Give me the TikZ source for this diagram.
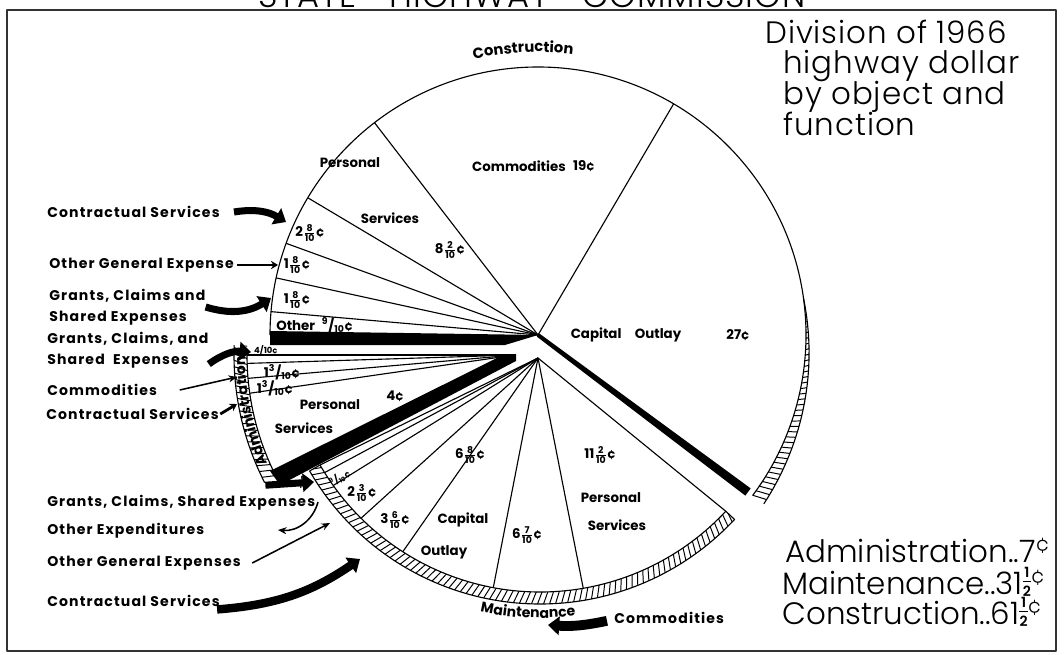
\documentclass[tikz,border=0pt]{standalone}
\usepackage{amsmath}
\usepackage{fontspec}
\setmainfont{Poppins}
\newfontfamily\thinfont{Poppins Light}[LetterSpace=3]
\newfontfamily\legfont{Poppins Light}
\newfontfamily\lblfont{Poppins}[LetterSpace=8]
\usetikzlibrary{arrows.meta, calc, decorations.text}

\newcommand{\fr}[2]{\ensuremath{\frac{\text{#1}}{\text{#2}}}}
\newcommand{\sfr}[2]{\textsuperscript{#1}/\textsubscript{#2}}
\newcommand{\half}{\raisebox{-2pt}{\bfseries\fontsize{10}{10}\selectfont\shortstack{1\\\rule{6pt}{0.6pt}\\2}}}

\tikzset{
	lbl/.style={font=\lblfont\bfseries\fontsize{10}{15}\selectfont, anchor=west, inner sep=0pt, align=left},
	sl/.style={font=\bfseries\fontsize{9.5}{11}\selectfont, inner sep=0pt},
	big/.style={font=\thinfont\fontsize{22}{30}\selectfont, anchor=base west, inner sep=0pt},
	leg/.style={font=\legfont\fontsize{22}{30}\selectfont, anchor=base west, inner sep=0pt},
	rim/.style={line width=0.8pt},
	hatch/.style={line width=0.7pt},
	fatarrow/.style={line width=5pt, -{Triangle[length=8pt, width=13pt]}},
	thinarrow/.style={line width=1.1pt, -{Stealth[length=6pt, width=5pt]}},
}

\begin{document}
\begin{tikzpicture}[x=0.025cm, y=0.025cm, line join=round]
	\useasboundingbox (0,0) rectangle (1064,654);
	\draw[line width=1pt, black!80] (7,3) rectangle (1056,644);
	\node[font=\thinfont\fontsize{24}{24}\selectfont, anchor=base] (title) at (532,646) {STATE\quad HIGHWAY\quad COMMISSION};

	\node[big] (head1) at (765,610) {Division of 1966};
	\node[big] (head2) at (783,580) {highway dollar};
	\node[big] (head3) at (783,550) {by object and};
	\node[big] (head4) at (783,519) {function};

	\node[leg] (tot1) at (785,92) {Administration..7\textsuperscript{¢}};
	\node[leg] (tot2) at (782,60) {Maintenance..31\half\textsuperscript{¢}};
	\node[leg] (tot3) at (782,30) {Construction..61\half\textsuperscript{¢}};

	\coordinate (C) at (538,319);
	\coordinate (A) at (515,299);
	\coordinate (M) at (538,296);
	\coordinate (MC) at (540,316);

	% construction
	\draw[rim] ($(C)+(180:268)$) arc[start angle=180, end angle=-36.8, radius=268];
	\foreach \a in {175,167.7,160,149.2,127.6,59.6}
		\draw[rim] (C) -- ($(C)+(\a:268)$);
	\begin{scope}[shift={(538,319)}]
		\begin{scope}
			\clip (8:268) arc[start angle=8, end angle=-36.8, radius=268] -- plot[domain=-36.8:8, samples=25] (\x:{268+14*(8-\x)/44.8}) -- cycle;
			\foreach \a in {-42,-40.8,...,10}
				\draw[hatch] (\a:262) -- ({\a+2}:290);
		\end{scope}
		\draw[rim] plot[domain=-36.8:8, samples=25] (\x:{268+14*(8-\x)/44.8});
		\path[decorate, decoration={text along path, text align=center,
			text={|\lblfont\bfseries\fontsize{10.5}{11}\selectfont|Construction}}]
			(118:283) arc[start angle=118, end angle=68, radius=283];
	\end{scope}
	\fill (270,323) -- (C) -- (505,309) -- (270,309) -- cycle;
	\fill (539.2,320.6) -- (750.7,165.6) -- (745.3,158.4) -- (536.8,317.4) -- cycle;

	% administration
	\foreach \a in {180,181.8,185,188.2}
		\draw[rim] (A) -- ($(A)+(\a:268)$);
	\begin{scope}[shift={(515,299)}]
		\draw[rim] (180:268) arc[start angle=180, end angle=206, radius=268];
		\begin{scope}
			\clip (178:268) arc[start angle=178, end angle=207, radius=268] -- (207:281) arc[start angle=207, end angle=178, radius=281] -- cycle;
			\foreach \a in {176,177.3,...,210}
				\draw[hatch] (\a:262) -- ({\a-2}:290);
		\end{scope}
		\draw[rim] (178:281) arc[start angle=178, end angle=207, radius=281];
		\path[decorate, decoration={text along path, text align=center,
			text={|\lblfont\bfseries\fontsize{10}{11}\selectfont|Administration}}]
			(216:270) arc[start angle=216, end angle=168, radius=270];
	\end{scope}
	\fill (270,183) -- (505,300) -- (516,300) -- (516,293) -- (280,169) -- cycle;

	% maintenance
	\foreach \a in {210,212,215.5,225.2,237.3,259.4,279.8,317}
		\draw[rim] (M) -- ($(MC)+(\a:254)$);
	\begin{scope}[shift={(540,316)}]
		\draw[rim] (210:254) arc[start angle=210, end angle=317, radius=254];
		\begin{scope}
			\clip (210:254) arc[start angle=210, end angle=317, radius=254] -- (317:266) arc[start angle=317, end angle=210, radius=266] -- cycle;
			\foreach \a in {206,207.3,...,320}
				\draw[hatch] (\a:248) -- ({\a-2}:272);
		\end{scope}
		\draw[rim] (210:266) arc[start angle=210, end angle=317, radius=266] -- (317:254);
		\draw[rim] (210:254) -- (210:266);
		\path[decorate, decoration={text along path, text align=center,
			text={|\lblfont\bfseries\fontsize{10}{11}\selectfont|Maintenance}}]
			(242:280) arc[start angle=242, end angle=293, radius=280];
	\end{scope}

	% slice labels
	\node[sl, anchor=west] (oth) at (276,329) {Other\enspace\sfr{9}{10}¢};
	\node[sl] (grc) at (297,354) {1\fr{8}{10}¢};
	\node[sl] (oge) at (297,389) {1\fr{8}{10}¢};
	\node[sl] (ctr) at (310,421) {2\fr{8}{10}¢};
	\node[sl] (per1) at (350,491) {Personal};
	\node[sl] (ser1) at (390,436) {Services};
	\node[sl] (pv1) at (450,404) {8\fr{2}{10}¢};
	\node[sl] (com1) at (519,488) {Commodities};
	\node[sl] (cv1) at (584,488) {19¢};
	\node[sl] (cap1) at (626,319) {Capital\quad Outlay};
	\node[sl] (kv1) at (738,319) {27¢};

	\node[sl, font=\bfseries\fontsize{6}{6}\selectfont] (ad1) at (266,304) {4/10¢};
	\node[sl] (ad2) at (282,282) {1\sfr{3}{10}¢};
	\node[sl] (ad3) at (275,266) {1\sfr{3}{10}¢};
	\node[sl] (per2) at (330,249) {Personal};
	\node[sl] (ser2) at (304,226) {Services};
	\node[sl] (pv2) at (395,258) {4¢};

	\node[sl, font=\bfseries\fontsize{6}{6}\selectfont] (mt1) at (303,172) {\fr{5}{10}};
	\node[sl, font=\bfseries\fontsize{6.5}{7}\selectfont, rotate=28] (mt2) at (340,176) {\sfr{9}{10}¢};
	\node[sl] (mt3) at (362,161) {2\fr{3}{10}¢};
	\node[sl] (mt4) at (395,134) {3\fr{6}{10}¢};
	\node[sl] (cap2) at (463,134) {Capital};
	\node[sl] (out2) at (444,102) {Outlay};
	\node[sl] (mt5) at (470,199) {6\fr{8}{10}¢};
	\node[sl] (mt6) at (527,119) {6\fr{7}{10}¢};
	\node[sl] (mt7) at (600,199) {11\fr{2}{10}¢};
	\node[sl] (per3) at (611,156) {Personal};
	\node[sl] (ser3) at (617,129) {Services};

	% outside labels
	\node[lbl] (cs1) at (47,442) {Contractual Services};
	\node[lbl] (og1) at (49,389) {Other General Expense};
	\node[lbl] (gc1) at (49,347) {Grants, Claims and\\Shared Expenses};
	\node[lbl] (gc2) at (47,304) {Grants, Claims, and\\Shared\ \ Expenses};
	\node[lbl] (cm1) at (47,264) {Commodities};
	\node[lbl] (cs2) at (46,240) {Contractual Services};
	\node[lbl] (gc3) at (47,151) {Grants, Claims, Shared Expenses};
	\node[lbl] (oe) at (47,123) {Other Expenditures};
	\node[lbl] (ogs) at (47,91) {Other General Expenses};
	\node[lbl] (cs3) at (47,53) {Contractual Services};
	\node[lbl] (cm2) at (614,36) {Commodities};

	\coordinate (t1) at (286,432);
	\coordinate (t2) at (278,389);
	\coordinate (t3) at (271,356);
	\coordinate (t4) at (251,302);
	\coordinate (t5) at (237,277);
	\coordinate (t6) at (237,250);
	\coordinate (t7) at (314,172);
	\coordinate (t8) at (318,152);
	\coordinate (e8) at (278,124);
	\coordinate (t9) at (330,131);
	\coordinate (t10) at (360,95);
	\coordinate (t11) at (548,29);

	\draw[fatarrow] ([xshift=10pt]cs1.east) to[bend left=20] (t1);
	\draw[line width=2pt, -{Stealth[length=5pt, width=6pt]}] ([xshift=2pt]og1.east) -- (t2);
	\draw[fatarrow] (gc1.east) to[bend right=25] (t3);
	\draw[fatarrow] ([yshift=-10pt]gc2.east) to[bend left=20] (t4);
	\draw[thinarrow] ([xshift=16pt]cm1.east) -- (t5);
	\draw[line width=2pt, -{Stealth[length=5pt, width=6pt]}] ([xshift=1pt]cs2.east) -- (t6);
	\draw[fatarrow] ($(gc3.north east)+(-50,10)$) -- (t7);
	\draw[thinarrow] (t8) to[bend left=40] (e8);
	\draw[thinarrow] ([xshift=8pt]ogs.east) -- (t9);
	\draw[fatarrow, line width=6pt] ([xshift=-2pt, yshift=-6pt]cs3.east) to[bend right=15] (t10);
	\draw[fatarrow, line width=7pt] ([xshift=-5pt, yshift=-2pt]cm2.west) to[bend left=8] (t11);
\end{tikzpicture}
\end{document}
